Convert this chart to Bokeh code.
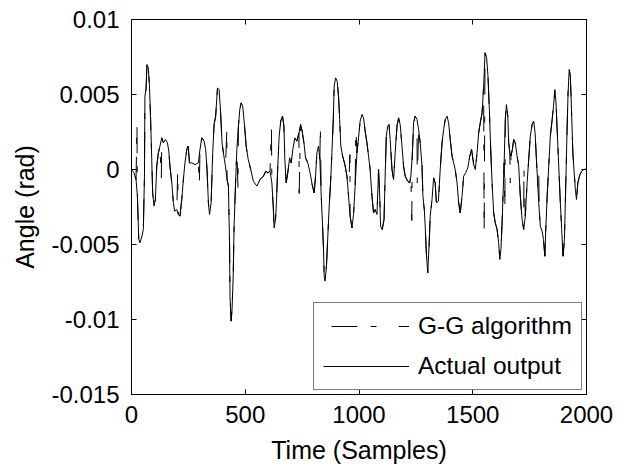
import numpy as np
from bokeh.plotting import figure
from bokeh.models import FixedTicker, LinearAxis, Range1d, Legend, LegendItem, ColumnDataSource
from bokeh.embed import file_html
from bokeh.resources import INLINE

# ---- data (samples, rad) ----
act_x = [0, 11, 20, 26, 32, 37, 46, 52, 57, 59, 64, 68, 74, 79, 84, 89, 93, 99, 105, 111,
         118, 125, 133, 140, 149, 158, 164, 169, 177, 184, 190, 199, 206, 213, 221, 228, 235, 243, 249, 255,
         265, 279, 294, 301, 309, 319, 326, 332, 338, 343, 350, 357, 363, 370, 378, 385, 391, 398, 406, 413,
         420, 426, 431, 433, 438, 442, 447, 451, 457, 463, 470, 476, 482, 489, 497, 504, 513, 524, 536, 551,
         565, 580, 590, 599, 609, 617, 623, 627, 633, 637, 643, 649, 656, 664, 670, 674, 680, 687, 695, 702,
         709, 718, 727, 736, 743, 750, 758, 765, 775, 785, 794, 803, 809, 815, 822, 828, 834, 840, 844, 847,
         851, 857, 863, 869, 875, 881, 887, 891, 897, 904, 910, 915, 920, 928, 938, 947, 954, 961, 969, 976,
         983, 991, 998, 1005, 1013, 1020, 1027, 1035, 1042, 1049, 1057, 1064, 1071, 1079, 1086, 1091, 1095, 1102, 1110, 1115,
         1120, 1126, 1132, 1137, 1145, 1152, 1159, 1167, 1174, 1181, 1189, 1196, 1203, 1214, 1223, 1228, 1234, 1240, 1247, 1255,
         1262, 1269, 1277, 1281, 1287, 1291, 1296, 1302, 1308, 1313, 1321, 1328, 1335, 1340, 1349, 1357, 1365, 1372, 1379, 1387,
         1394, 1401, 1409, 1416, 1423, 1431, 1438, 1445, 1453, 1460, 1469, 1478, 1487, 1495, 1504, 1511, 1519, 1526, 1533, 1541,
         1548, 1554, 1561, 1567, 1573, 1579, 1585, 1592, 1599, 1607, 1614, 1619, 1624, 1629, 1633, 1638, 1643, 1648, 1654, 1658,
         1663, 1668, 1674, 1680, 1687, 1695, 1702, 1709, 1717, 1724, 1731, 1739, 1746, 1753, 1761, 1768, 1774, 1780, 1786, 1792,
         1797, 1805, 1811, 1817, 1821, 1827, 1834, 1841, 1849, 1855, 1861, 1866, 1871, 1878, 1885, 1891, 1897, 1903, 1909, 1915,
         1919, 1924, 1929, 1934, 1940, 1946, 1951, 1956, 1962, 1971, 1979, 1988, 2000]
act_y = [0.0, -0.00022, -0.00067, -0.00178, -0.00467, -0.00489, -0.00444, -0.004, -0.00044, 0.00489,
         0.00533, 0.007, 0.00678, 0.00556, 0.00333, 0.00067, -0.00156, -0.00244, -0.002, 0.00022,
         0.00111, 0.00156, 0.00211, 0.00178, 0.002, 0.00178, 0.00122, 0.00022, -0.00089, -0.00222,
         -0.00278, -0.00267, -0.003, -0.00311, -0.002, -0.00067, 0.00044, 0.00133, 0.00156, 0.00044,
         0.00044, 0.00033, 0.00044, 0.00133, 0.00211, 0.00189, 0.00133, 0.0, -0.00222, -0.003,
         -0.00222, 0.00111, 0.003, 0.00356, 0.00544, 0.00533, 0.004, 0.00178, 0.00089, 0.00022,
         -0.00067, -0.00111, -0.00489, -0.00844, -0.01011, -0.00933, -0.00711, -0.00378, -0.00111, 0.00133,
         0.00289, 0.004, 0.00444, 0.00422, 0.00289, 0.00156, 0.00067, 0.0, -0.00078, -0.00111,
         -0.00067, -0.00044, -0.00011, -0.00022, -0.00011, -0.00089, -0.00244, -0.00389, -0.00333, -0.00222,
         0.00022, 0.00222, 0.00322, 0.00356, 0.00289, 0.00067, -0.00089, -0.00022, 0.00078, 0.00044,
         0.00133, 0.00211, 0.00189, 0.00244, 0.003, 0.00256, 0.00178, 0.00078, 0.00044, -0.00022,
         -0.001, -0.00156, -0.00044, 0.00111, 0.00156, 0.00067, -0.00178, -0.00378, -0.00533, -0.00711,
         -0.00744, -0.00644, -0.00444, -0.00244, -0.00089, 0.00111, 0.00333, 0.00556, 0.00611, 0.00589,
         0.00489, 0.00333, 0.00156, 0.00089, 0.00033, -0.00044, -0.00178, -0.00311, -0.00389, -0.003,
         -0.00111, 0.00111, 0.00211, 0.00322, 0.00367, 0.00344, 0.00256, 0.00178, 0.00089, 0.0,
         -0.00178, -0.00289, -0.00267, -0.003, 0.0, -0.00178, -0.00378, -0.004, -0.00333, -0.00044,
         0.00222, 0.00289, 0.003, 0.002, 0.0, -0.00067, 0.00111, 0.00289, 0.00344, 0.003,
         0.00156, 0.00022, -0.00044, -0.00078, -0.00089, -0.00044, 0.00089, 0.00311, 0.00356, 0.00333,
         0.00267, 0.00178, 0.00022, -0.00178, -0.00267, -0.00378, -0.00556, -0.00689, -0.00511, -0.00311,
         -0.002, -0.00056, -0.00089, -0.00222, -0.00211, 0.0, 0.00178, 0.00267, 0.00333, 0.00356,
         0.00311, 0.002, 0.00089, 0.00044, 0.0, -0.00089, -0.00222, -0.00289, -0.00178, -0.00044,
         -0.00022, 0.00011, 0.00089, 0.00133, 0.00033, 0.0, 0.00111, 0.00244, 0.00311, 0.00378,
         0.00556, 0.00778, 0.00744, 0.00622, 0.004, 0.00133, -0.00089, -0.00289, -0.00356, -0.004,
         -0.00489, -0.006, -0.00533, -0.00356, -0.00178, 0.00044, 0.00333, 0.00433, 0.00356, 0.00178,
         0.00111, 0.00089, 0.00133, 0.002, 0.00178, 0.00089, 0.00022, -0.00178, -0.00333, -0.004,
         -0.00311, -0.00089, 0.00067, 0.00222, 0.003, 0.00322, 0.00244, 0.00067, -0.00111, -0.00267,
         -0.00378, -0.00411, -0.00467, -0.00578, -0.004, -0.00178, 0.00022, 0.00222, 0.00333, 0.00422,
         0.00533, 0.00444, 0.00267, 0.00022, -0.00222, -0.004, -0.00578, -0.00467, -0.00089, 0.00289,
         0.00511, 0.00667, 0.00622, 0.004, 0.00111, -0.00022, -0.00133, -0.002, -0.00089, -0.00033,
         -0.00011, 0.0, 0.00004]

# G-G algorithm: follows the actual output, with these visible departures
gg_dev_x = [24, 131, 203, 298, 419, 468, 615, 737, 830, 960, 986, 1232, 1256, 1550, 1641, 1665, 1725, 1790]
gg_dev_y = [0.0032, -0.0008, -0.0002, -0.0012, 0.0026, -0.0012, 0.0029, -0.0016, 0.0028, 0.0010,
            0.0028, -0.0034, -0.0009, -0.0043, -0.0028, -0.0009, 0.0000, 0.0000]

x_ticks = [0, 500, 1000, 1500, 2000]
x_tick_labels = ["0", "500", "1000", "1500", "2000"]
y_ticks = [-0.015, -0.01, -0.005, 0, 0.005, 0.01]
y_tick_labels = ["-0.015", "-0.01", "-0.005", "0", "0.005", "0.01"]

series_labels = ["G-G algorithm", "Actual output"]
x_label = "Time (Samples)"
y_label = "Angle (rad)"

FONT = "Liberation Sans"
TICK_FS = "24px"
LABEL_FS = "25px"
LEG_FS = "24.5px"

gx = np.concatenate([np.array(act_x, float), np.array(gg_dev_x, float)])
gy = np.concatenate([np.array(act_y, float), np.array(gg_dev_y, float)])
order = np.argsort(gx, kind="stable")
gg_src = ColumnDataSource(dict(x=gx[order], y=gy[order]))
act_src = ColumnDataSource(dict(x=act_x, y=act_y))

p = figure(width=626, height=468, output_backend="svg", toolbar_location=None,
           x_range=Range1d(0, 2000), y_range=Range1d(-0.015, 0.01),
           min_border_left=131, min_border_right=40, min_border_top=19, min_border_bottom=74)
p.background_fill_color = "white"
p.border_fill_color = "white"
p.outline_line_color = "black"
p.outline_line_width = 1
p.xgrid.visible = False
p.ygrid.visible = False

r_act = p.line("x", "y", source=act_src, line_color="black", line_width=1)
r_gg = p.line("x", "y", source=gg_src, line_color="black", line_width=1,
              line_dash="26 13 6 22", line_dash_offset=59)

for ax, ticks, labels in [(p.xaxis[0], x_ticks, x_tick_labels), (p.yaxis[0], y_ticks, y_tick_labels)]:
    ax.ticker = FixedTicker(ticks=ticks)
    ax.major_label_overrides = dict(zip(ticks, labels))
    ax.major_tick_in = 5
    ax.major_tick_out = 0
    ax.minor_tick_line_color = None
    ax.axis_line_color = "black"
    ax.major_tick_line_color = "black"
    ax.major_label_text_font = FONT
    ax.major_label_text_font_size = TICK_FS
    ax.major_label_text_color = "black"
    ax.axis_label_text_font = FONT
    ax.axis_label_text_font_size = LABEL_FS
    ax.axis_label_text_font_style = "normal"
    ax.axis_label_text_color = "black"

p.xaxis[0].axis_label = x_label
p.yaxis[0].axis_label = y_label
p.xaxis[0].major_label_standoff = 11
p.xaxis[0].axis_label_standoff = 10
p.yaxis[0].major_label_standoff = 12
p.yaxis[0].axis_label_standoff = 9

# mirrored inward ticks on the top and right edges (labels not drawn)
for loc, ticks in [("right", y_ticks), ("above", x_ticks)]:
    ax = LinearAxis(ticker=FixedTicker(ticks=ticks), major_label_text_font_size="1px",
                    major_label_text_color=None,
                    major_tick_in=5, major_tick_out=0, minor_tick_line_color=None,
                    axis_line_color="black", major_tick_line_color="black", major_label_standoff=0)
    p.add_layout(ax, loc)

legend = Legend(items=[LegendItem(label=series_labels[0], renderers=[r_gg]),
                       LegendItem(label=series_labels[1], renderers=[r_act])],
                location="bottom_right", margin=4, padding=9, spacing=12,
                glyph_width=86, glyph_height=28, label_height=28, label_width=154, label_standoff=9,
                label_text_font=FONT, label_text_font_size=LEG_FS, label_text_color="black",
                border_line_color="black", border_line_width=1,
                background_fill_color="white", background_fill_alpha=1.0)
p.add_layout(legend)

open("out.html", "w").write(file_html(p, INLINE))
